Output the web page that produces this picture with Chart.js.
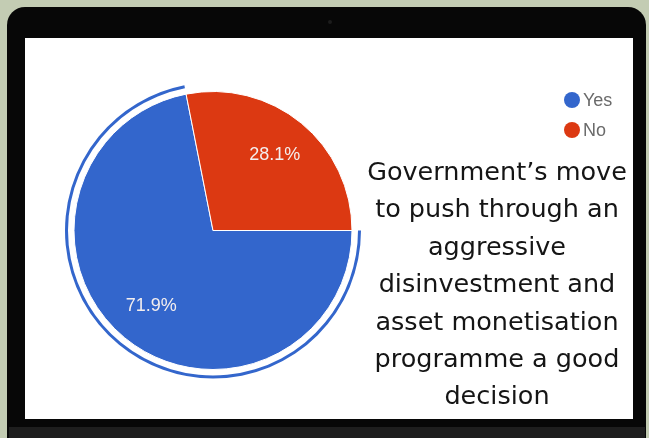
<!DOCTYPE html>
<html>
<head>
<meta charset="utf-8">
<title>Disinvestment poll</title>
<script src="https://cdn.jsdelivr.net/npm/chart.js@4.4.1/dist/chart.umd.min.js"></script>
<style>
    html, body { margin: 0; padding: 0; }
    body {
        width: 649px;
        height: 438px;
        background: #c3ccb3;
        position: relative;
        overflow: hidden;
    }
    .bezel {
        position: absolute;
        left: 7px; top: 7px;
        width: 639px; height: 440px;
        background: #070707;
        border-radius: 18px 18px 0 0;
    }
    .camera {
        position: absolute;
        left: 328px; top: 20px;
        width: 4px; height: 4px;
        border-radius: 50%;
        background: #1c1c1c;
    }
    .hinge {
        position: absolute;
        left: 9px; top: 427px;
        width: 636px; height: 11px;
        background: #1e1e1e;
    }
    .screen {
        position: absolute;
        left: 25px; top: 38px;
        width: 608px; height: 381px;
        background: #ffffff;
    }
    .screen canvas { position: absolute; left: 0; top: 0; }
    .question {
        position: absolute;
        left: 357px; top: 153px;
        width: 280px;
        text-align: center;
        font-family: "DejaVu Sans", sans-serif;
        font-size: 25.5px;
        line-height: 37.4px;
        color: #151515;
    }
</style>
</head>
<body>
<div class="bezel"></div>
<div class="camera"></div>
<div class="hinge"></div>
<div class="screen">
    <canvas id="pollChart" width="608" height="381"></canvas>
</div>
<div class="question" id="question"></div>

<script>
// poll answers and share of respondents (%)
const answers = ['Yes', 'No'];
const shares = [71.9, 28.1];
const sliceColors = ['#3366cc', '#dc3912'];
const questionLines = [
    'Government\u2019s move',
    'to push through an',
    'aggressive',
    'disinvestment and',
    'asset monetisation',
    'programme a good',
    'decision'
];

document.getElementById('question').innerHTML = questionLines.join('<br>');

// percent text inside each slice
const sliceLabels = {
    id: 'sliceLabels',
    afterDatasetsDraw(chart) {
        const meta = chart.getDatasetMeta(2);
        const ctx = chart.ctx;
        ctx.save();
        ctx.font = '18px "Liberation Sans", Arial, sans-serif';
        ctx.fillStyle = '#f4eeee';
        ctx.textAlign = 'center';
        ctx.textBaseline = 'middle';
        meta.data.forEach((arc, i) => {
            const { x, y, startAngle, endAngle, outerRadius } = arc.getProps(['x', 'y', 'startAngle', 'endAngle', 'outerRadius'], true);
            const mid = (startAngle + endAngle) / 2;
            const r = outerRadius * 0.7;
            const value = chart.data.datasets[2].data[i];
            ctx.fillText(value.toFixed(1) + '%', x + Math.cos(mid) * r, y + Math.sin(mid) * r);
        });
        ctx.restore();
    }
};

// legend drawn top right, like the forms summary
const sideLegend = {
    id: 'sideLegend',
    afterDraw(chart) {
        const ctx = chart.ctx;
        const ds = chart.data.datasets[2];
        ctx.save();
        ctx.font = '18px "Liberation Sans", Arial, sans-serif';
        ctx.textBaseline = 'middle';
        chart.data.labels.forEach((label, i) => {
            const cy = 62 + i * 30;
            ctx.beginPath();
            ctx.arc(547, cy, 8, 0, Math.PI * 2);
            ctx.fillStyle = ds.backgroundColor[i];
            ctx.fill();
            ctx.fillStyle = '#6a6a6a';
            ctx.fillText(label, 558, cy + 1);
        });
        ctx.restore();
    }
};

new Chart(document.getElementById('pollChart'), {
    type: 'pie',
    data: {
        labels: answers,
        datasets: [
            {
                // highlight ring around the Yes slice
                data: shares,
                backgroundColor: [sliceColors[0], 'rgba(0,0,0,0)'],
                borderWidth: 0,
                weight: 3
            },
            {
                // white gap between ring and pie
                data: shares,
                backgroundColor: 'rgba(0,0,0,0)',
                borderWidth: 0,
                weight: 6
            },
            {
                data: shares,
                backgroundColor: sliceColors,
                borderColor: '#ffffff',
                borderWidth: 1,
                weight: 139
            }
        ]
    },
    plugins: [sliceLabels, sideLegend],
    options: {
        responsive: false,
        animation: false,
        events: [],
        rotation: 90,
        radius: 148,
        layout: {
            padding: { left: 40, right: 272, top: 44, bottom: 40 }
        },
        plugins: {
            legend: { display: false },
            tooltip: { enabled: false }
        }
    }
});
</script>
</body>
</html>
